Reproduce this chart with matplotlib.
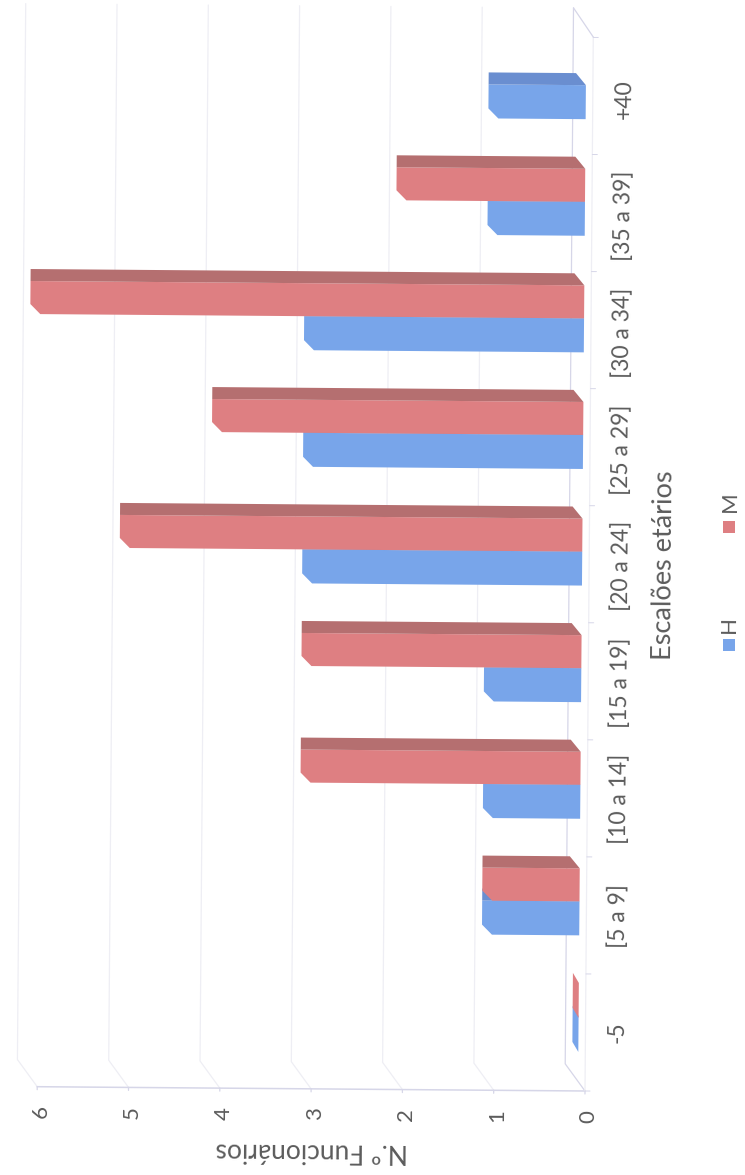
#!/usr/bin/env python3
# -*- coding: utf-8 -*-
"""Funcionários por escalão etário e sexo: barras com aspeto 3D, página deitada."""
import matplotlib
matplotlib.use('Agg')
import matplotlib.pyplot as plt
from matplotlib.transforms import Affine2D

escaloes = ['-5', '[5 a 9]', '[10 a 14]', '[15 a 19]', '[20 a 24]',
            '[25 a 29]', '[30 a 34]', '[35 a 39]', '+40']
homens = [0, 1, 1, 1, 3, 3, 3, 1, 1]
mulheres = [0, 1, 3, 3, 5, 4, 6, 2, None]
valores_eixo = [0, 1, 2, 3, 4, 5, 6]

PX_X = 91.3    # pixels por funcionário
PX_Y = 116.6   # pixels por escalão
AZUL, AZUL_ESC = '#78a5ea', '#6a8ed0'
VERM, VERM_ESC = '#de7f82', '#b56f70'
GRELHA, EIXO = '#eeeef4', '#d6d6e8'
TEXTO = '#5c5c5c'
FONTE = ['Lato', 'DejaVu Sans']
INCL = 0.45    # a folha ficou ligeiramente torta

fig = plt.figure(figsize=(7.45, 11.75), dpi=100)
ax = fig.add_axes([0, 0, 1, 1])
ax.set_xlim(585 / PX_X, (585 - 745) / PX_X)
ax.set_ylim((1018 - 1175) / PX_Y, 1018 / PX_Y)
ax.axis('off')
tr = ax.transData + Affine2D().rotate_deg_around(585, 84, -INCL)

Y_FRENTE = (1018 - 1091) / PX_Y
Y_FUNDO = (1018 - 1064) / PX_Y
Y_TOPO = (1018 - 8) / PX_Y
Y_FIM = (1018 - 37) / PX_Y
DX_FUNDO = 20 / PX_X


def linha(xs, ys, cor, lw=0.9):
    ax.plot(xs, ys, color=cor, lw=lw, transform=tr, solid_capstyle='round', clip_on=False)


def barra(valor, y0, y1, cor, cor_topo):
    # y0 = base da face, y1 = topo da face; a banda escura fica por cima
    dir_ = 7 / PX_X
    esq = valor + 13 / PX_X
    largura = (esq - dir_) * PX_X
    cx = min(10, largura) / PX_X
    cy = 10 / PX_Y
    banda = 12 / PX_Y
    if valor == 0:
        # sem altura: só se vê a lasca do chão da barra
        ax.fill([dir_, esq, esq, dir_], [y0, y0 + cy, y1 + banda, y1 + banda - cy],
                color=cor, lw=0, transform=tr, zorder=3)
        return
    ax.fill([dir_, esq - cx, esq, esq, dir_],
            [y0, y0, y0 + cy, y1, y1],
            color=cor, lw=0, transform=tr, zorder=3)
    ax.fill([dir_, dir_ + cx, esq, esq],
            [y1, y1 + banda, y1 + banda, y1],
            color=cor_topo, lw=0, transform=tr, zorder=3)


# grelha e chão
for v in valores_eixo:
    linha([v, v + DX_FUNDO, v + DX_FUNDO], [Y_FRENTE, Y_FUNDO, Y_TOPO], GRELHA if v else EIXO)
    linha([v, v], [Y_FRENTE, Y_FRENTE - 3 / PX_Y], EIXO)
    ax.text(v - 4 / PX_X, (1018 - 1116) / PX_Y, str(v), rotation=90 - INCL, ha='center', va='center',
            rotation_mode='anchor', fontsize=16, color=TEXTO, family=FONTE, transform=tr)
linha([0, 6], [Y_FRENTE, Y_FRENTE], EIXO, 1.1)
linha([0, 0], [Y_FRENTE, Y_FIM], GRELHA)
linha([0, DX_FUNDO], [Y_FIM, Y_TOPO], EIXO)
for k in range(len(escaloes) + 1):
    y = Y_FRENTE + k * 1.004
    linha([0, -5 / PX_X], [y, y], EIXO, 0.7)

# barras, H primeiro para M lhe tapar a banda superior
for i, nome in enumerate(escaloes):
    barra(homens[i], i - 34 / PX_Y, i - 0.0, AZUL, AZUL_ESC)
    if mulheres[i] is not None:
        barra(mulheres[i], i, i + 33 / PX_Y, VERM, VERM_ESC)
    ax.text(-0.35, i - 0.12, nome, rotation=90 - INCL, ha='center', va='center', rotation_mode='anchor',
            fontsize=16.5, color=TEXTO, family=FONTE, transform=tr)

# títulos e legenda
ax.text((585 - 660) / PX_X, (1018 - 565) / PX_Y, 'Escalões etários', rotation=90 - INCL, ha='center', va='center',
        rotation_mode='anchor', fontsize=19.5, color=TEXTO, family=FONTE, transform=tr)
ax.text((585 - 312) / PX_X, (1018 - 1153) / PX_Y, 'N.º Funcionários', rotation=180 - INCL, ha='center', va='center',
        rotation_mode='anchor', fontsize=19, color=TEXTO, family=FONTE, transform=tr)
for nome, cor, y_quad, y_txt in [('H', AZUL, 644, 623), ('M', VERM, 526, 501)]:
    xq = (585 - 725) / PX_X
    ax.scatter([xq], [(1018 - y_quad) / PX_Y], marker='s', s=70, color=cor, lw=0, transform=tr)
    ax.text(xq, (1018 - y_txt) / PX_Y, nome, rotation=90 - INCL, ha='center', va='center', rotation_mode='anchor',
            fontsize=16, color=TEXTO, family=FONTE, transform=tr)

fig.savefig('out.png', dpi=100, facecolor='white')
